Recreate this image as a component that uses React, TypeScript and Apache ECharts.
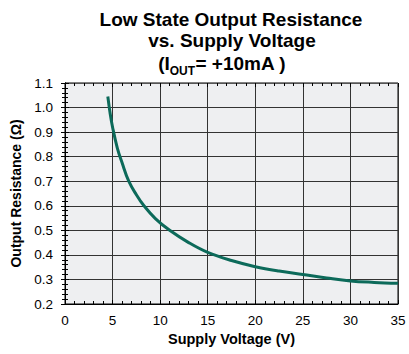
import React, { useEffect, useRef } from "react";
import * as echarts from "echarts";

const voltage = [4.5, 4.75, 5, 5.5, 6, 6.7, 7.5, 8.3, 9.5, 11, 13, 15, 17.5, 20, 22.5, 25, 27.5, 30, 32.5, 35];
const resistance = [1.045, 0.975, 0.92, 0.835, 0.775, 0.7, 0.645, 0.6, 0.548, 0.5, 0.45, 0.41, 0.377, 0.352, 0.334, 0.32, 0.306, 0.294, 0.288, 0.284];

const titleLines = ["Low State Output Resistance", "vs. Supply Voltage"];
const xName = "Supply Voltage (V)";
const yName = "Output Resistance (Ω)";

const FONT = "Liberation Sans, Arial, Helvetica, sans-serif";

export default function App() {
  const ref = useRef<HTMLDivElement>(null);
  useEffect(() => {
    const chart = echarts.init(ref.current!, undefined, { renderer: "svg" });
    const data = voltage.map((v, i) => [v, resistance[i]]);
    const tickInside = { show: true, inside: true, length: 4, lineStyle: { color: "#000", width: 1 } };
    const minorInside = { show: true, splitNumber: 5, length: 3, lineStyle: { color: "#000", width: 1 } };
    chart.setOption({
      animation: false,
      backgroundColor: "#fff",
      grid: {
        left: 65,
        right: 11,
        top: 83,
        bottom: 50,
        show: true,
        backgroundColor: "#eeeff1",
        borderColor: "#000",
        borderWidth: 1,
      },
      graphic: [
        {
          type: "text",
          x: 231,
          y: 10,
          style: {
            text: titleLines[0],
            font: `bold 19px ${FONT}`,
            fill: "#000",
            textAlign: "center",
          },
        },
        {
          type: "text",
          x: 232,
          y: 31,
          style: {
            text: titleLines[1],
            font: `bold 19px ${FONT}`,
            fill: "#000",
            textAlign: "center",
          },
        },
        {
          type: "text",
          x: 222,
          y: 51,
          style: {
            text: "{a|(I}{s|OUT}{a|= +10mA )}",
            textAlign: "center",
            fill: "#000",
            rich: {
              a: { font: `bold 19px ${FONT}`, fill: "#000", verticalAlign: "bottom", lineHeight: 22 },
              s: { font: `bold 12px ${FONT}`, fill: "#000", verticalAlign: "bottom", lineHeight: 14, padding: [0, 0, -4, 0] },
            },
          },
        },
      ],
      xAxis: [
        {
          type: "value",
          min: 0,
          max: 35,
          interval: 5,
          name: xName,
          nameLocation: "middle",
          nameGap: 27,
          nameTextStyle: { fontFamily: FONT, fontWeight: "bold", fontSize: 14.5, color: "#000" },
          axisLine: { show: true, lineStyle: { color: "#000" } },
          axisTick: tickInside,
          minorTick: minorInside,
          axisLabel: { fontFamily: FONT, fontSize: 13.5, color: "#000", margin: 9 },
          splitLine: { show: true, lineStyle: { color: "#333", width: 1 } },
        },
        {
          type: "value",
          position: "top",
          min: 0,
          max: 35,
          interval: 5,
          axisLine: { show: true, lineStyle: { color: "#555" } },
          axisTick: tickInside,
          minorTick: minorInside,
          axisLabel: { show: false },
          splitLine: { show: false },
        },
      ],
      yAxis: [
        {
          type: "value",
          min: 0.2,
          max: 1.1,
          interval: 0.1,
          name: yName,
          nameLocation: "middle",
          nameGap: 36,
          nameTextStyle: { fontFamily: FONT, fontWeight: "bold", fontSize: 14, color: "#000" },
          axisLine: { show: true, lineStyle: { color: "#000" } },
          axisTick: tickInside,
          minorTick: minorInside,
          axisLabel: {
            fontFamily: FONT,
            fontSize: 13.5,
            color: "#000",
            margin: 12,
            formatter: (v: number) => v.toFixed(1),
          },
          splitLine: { show: true, lineStyle: { color: "#333", width: 1 } },
        },
        {
          type: "value",
          position: "right",
          min: 0.2,
          max: 1.1,
          interval: 0.1,
          axisLine: { show: true, lineStyle: { color: "#000" } },
          axisTick: tickInside,
          minorTick: minorInside,
          axisLabel: { show: false },
          splitLine: { show: false },
        },
      ],
      series: [
        {
          type: "line",
          data,
          smooth: 0.4,
          showSymbol: false,
          symbol: "none",
          lineStyle: { color: "#0c6a5a", width: 3 },
          xAxisIndex: 0,
          yAxisIndex: 0,
        },
      ],
    });
    return () => chart.dispose();
  }, []);
  return <div ref={ref} style={{ position: "absolute", left: 0, top: 0, width: 409, height: 354 }} />;
}
